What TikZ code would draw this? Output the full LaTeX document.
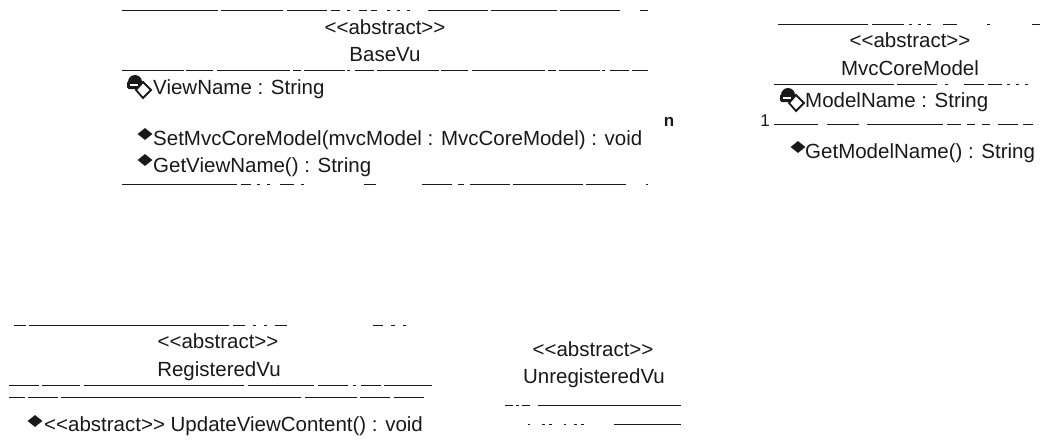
\documentclass[tikz,border=0pt]{standalone}
\usepackage{fontspec}
\setmainfont{Liberation Sans}[Ligatures=NoCommon]
\usetikzlibrary{shapes.geometric}
\definecolor{ink}{gray}{0.1}
\newcommand{\abs}{<{}<abstract>{}>}
\tikzset{
  x=1pt,y=-1pt,
  txt/.style={inner sep=0pt,text=ink,font=\fontsize{20.5}{24}\selectfont,anchor=base west},
  ctxt/.style={txt,anchor=base},
  rule/.style={draw=ink,line width=0.9pt,dash pattern=on 62pt off 2pt on 27pt off 4pt on 73pt off 3pt on 8pt off 3pt on 41pt off 2pt on 3pt off 5pt on 19pt off 3pt},
  meth/.style={diamond,fill=ink,inner sep=0pt,minimum width=15pt,minimum height=12pt},
}
\newcommand{\lockicon}[2]{%
  \begin{scope}[shift={(#1,#2)}]
    \fill[ink] (-2,-3) circle[radius=7pt];
    \fill[ink,rounded corners=1.5pt] (-10,-4) rectangle (6,4);
    \fill[white] (-7,-0.6) rectangle (1,0.8);
    \draw[ink,fill=white,line width=1.8pt] (6,-3) -- (14,5) -- (6,13) -- (-1,5) -- cycle;
  \end{scope}}
\begin{document}
\begin{tikzpicture}
\useasboundingbox (0,0) rectangle (1048,444);
% BaseVu
\coordinate (b1l) at (122,10); \coordinate (b1r) at (648,10);
\coordinate (b2l) at (122,70); \coordinate (b2r) at (648,70);
\coordinate (b3l) at (122,184); \coordinate (b3r) at (648,184);
\draw[rule,dash pattern=on 96pt off 3pt on 62pt off 4pt on 40pt off 4pt on 9pt off 7pt on 3pt off 9pt on 8pt off 4pt on 6pt off 10pt on 3pt off 7pt on 3pt off 7pt on 3pt off 18pt on 60pt off 3pt on 66pt off 3pt on 60pt off 20pt] (b1l) -- (b1r);
\draw[rule] (b2l) -- (b2r);
\draw[rule,dash pattern=on 115pt off 4pt on 10pt off 6pt on 3pt off 7pt on 3pt off 10pt on 14pt off 7pt on 3pt off 60pt on 12pt off 46pt on 30pt off 6pt on 6pt off 6pt on 40pt off 3pt on 70pt off 3pt on 40pt off 20pt] (b3l) -- (b3r);
\node[ctxt] (bs) at (385,35) {\abs};
\node[ctxt] (bn) at (385,62) {BaseVu};
\lockicon{137}{85}
\node[txt] (ba) at (153,94) {ViewName : String};
\node[meth] (bd1) at (145,134) {};
\node[txt] (bm1) at (153,145) {SetMvcCoreModel(mvcModel : MvcCoreModel) : void};
\node[meth] (bd2) at (145,160) {};
\node[txt] (bm2) at (153,172) {GetViewName() : String};
% multiplicities
\node[ctxt,font=\bfseries\fontsize{17}{20}\selectfont] (mn) at (669,126) {n};
\node[ctxt,font=\fontsize{17}{20}\selectfont] (m1) at (765,126) {1};
% MvcCoreModel
\coordinate (m1l) at (778,24); \coordinate (m1r) at (1040,24);
\coordinate (m2l) at (774,84); \coordinate (m2r) at (1042,84);
\coordinate (m3l) at (774,124); \coordinate (m3r) at (1042,124);
\draw[rule,dash pattern=on 90pt off 4pt on 32pt off 5pt on 3pt off 6pt on 3pt off 6pt on 4pt off 12pt on 14pt off 30pt on 3pt off 42pt on 10pt off 8pt on 3pt off 40pt] (m1l) -- (m1r);
\draw[rule,dash pattern=on 120pt off 3pt on 40pt off 8pt on 3pt off 16pt on 20pt off 4pt on 14pt off 5pt on 3pt off 6pt on 3pt off 6pt on 3pt off 40pt] (m2l) -- (m2r);
\draw[rule,dash pattern=on 44pt off 9pt on 32pt off 8pt on 76pt off 4pt on 14pt off 6pt on 8pt off 7pt on 8pt off 8pt on 20pt off 5pt on 10pt off 40pt] (m3l) -- (m3r);
\node[ctxt] (ms) at (910,48) {\abs};
\node[ctxt] (mnm) at (910,75) {MvcCoreModel};
\lockicon{790}{98}
\node[txt] (ma) at (805,107) {ModelName : String};
\node[meth] (md) at (798,147) {};
\node[txt] (mm) at (805,158) {GetModelName() : String};
% RegisteredVu
\coordinate (r1l) at (14,325); \coordinate (r1r) at (432,325);
\coordinate (r2l) at (9,385); \coordinate (r2r) at (432,385);
\coordinate (r3l) at (9,397); \coordinate (r3r) at (432,397);
\draw[rule,dash pattern=on 12pt off 3pt on 200pt off 4pt on 12pt off 8pt on 3pt off 8pt on 3pt off 8pt on 12pt off 86pt on 10pt off 8pt on 4pt off 8pt on 3pt off 40pt] (r1l) -- (r1r);
\draw[rule,dash pattern=on 30pt off 3pt on 38pt off 4pt on 160pt off 4pt on 66pt off 4pt on 30pt off 5pt on 3pt off 5pt on 20pt off 3pt on 60pt off 10pt] (r2l) -- (r2r);
\draw[rule,dash pattern=on 16pt off 3pt on 30pt off 3pt on 240pt off 4pt on 52pt off 3pt on 30pt off 4pt on 30pt off 10pt] (r3l) -- (r3r);
\node[ctxt] (rs) at (218,348) {\abs};
\node[ctxt] (rn) at (219,376) {RegisteredVu};
\node[meth] (rd) at (35,421) {};
\node[txt] (rm) at (44,431) {\abs{} UpdateViewContent() : void};
% UnregisteredVu
\coordinate (u1l) at (505,405); \coordinate (u1r) at (681,405);
\coordinate (u2l) at (528,424); \coordinate (u2r) at (681,424);
\draw[rule,dash pattern=on 8pt off 3pt on 3pt off 3pt on 8pt off 8pt on 160pt off 30pt] (u1l) -- (u1r);
\draw[rule,dash pattern=on 2pt off 12pt on 3pt off 4pt on 3pt off 12pt on 2pt off 8pt on 3pt off 4pt on 3pt off 30pt on 80pt off 20pt] (u2l) -- (u2r);
\node[ctxt] (us) at (593,356) {\abs};
\node[ctxt] (un) at (594,383) {UnregisteredVu};
\end{tikzpicture}
\end{document}
